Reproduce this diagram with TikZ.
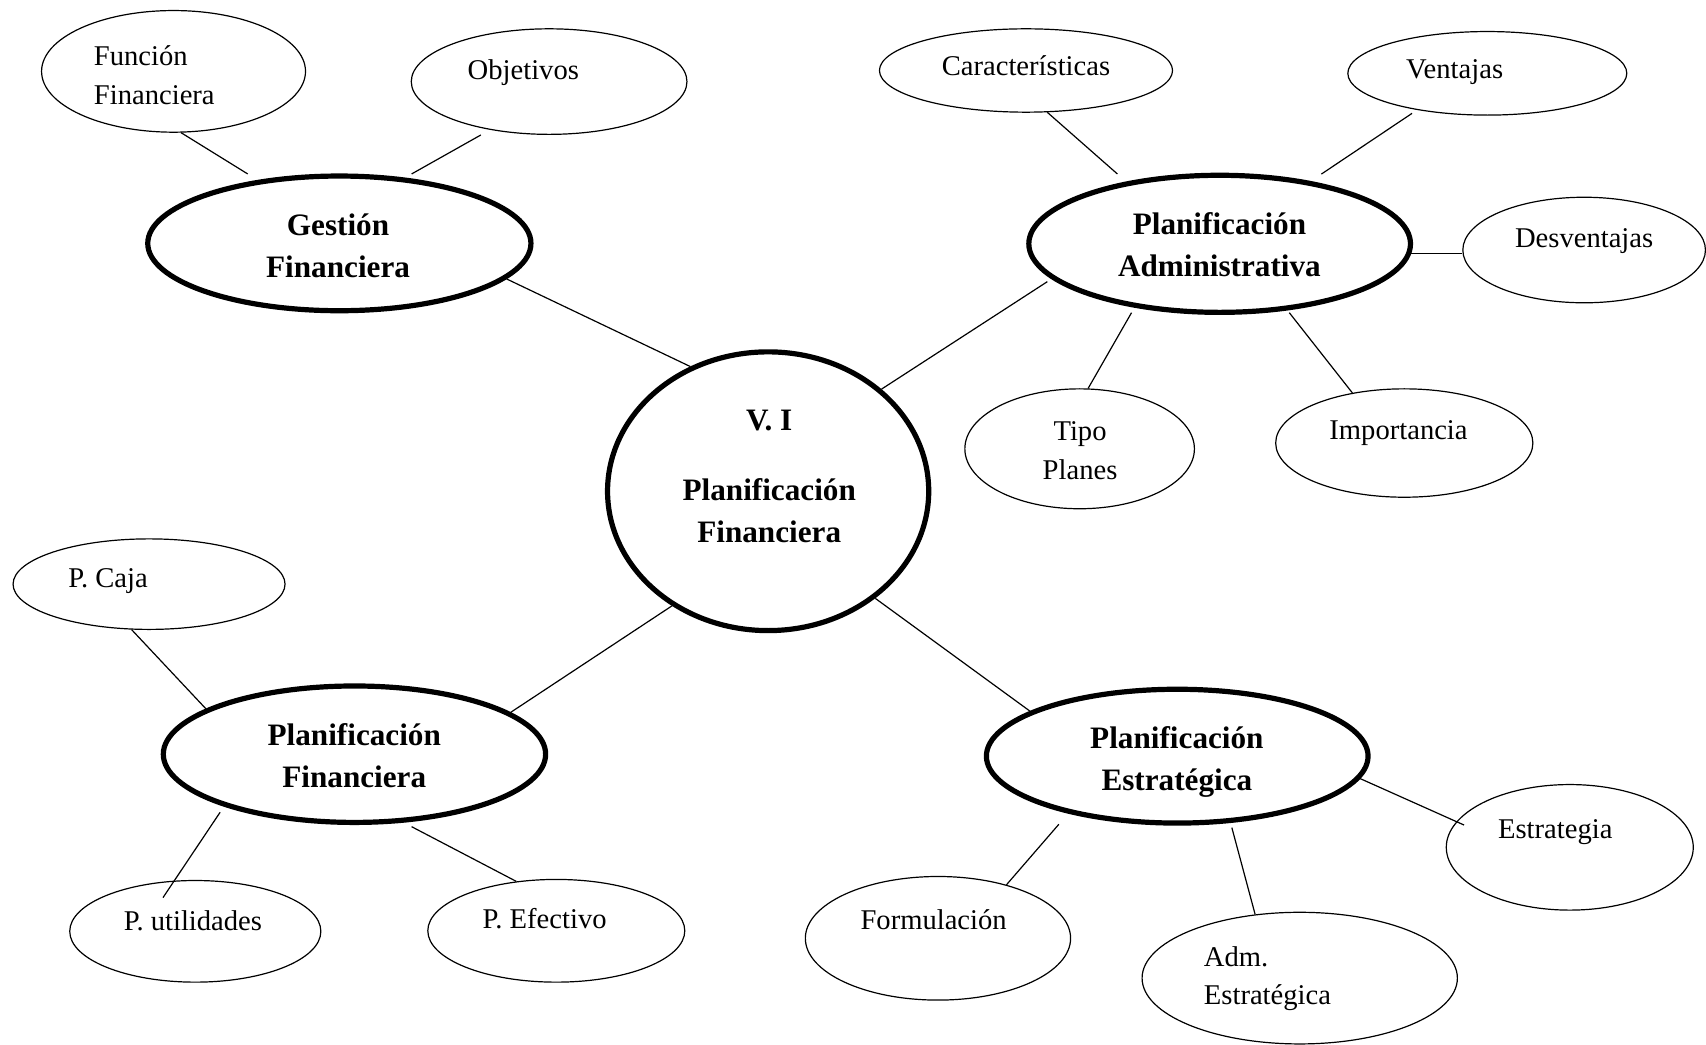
\documentclass[tikz,border=0pt]{standalone}
\usepackage{fontspec}
\setmainfont{Liberation Serif}
\usetikzlibrary{shapes.geometric,calc}
\newcommand\mytwo[3]{\begin{tabular}[t]{@{}#1@{}}#2\\#3\end{tabular}}
\begin{document}
\begin{tikzpicture}[x=0.544pt,y=-0.544pt,
  E/.style 2 args={ellipse, draw, line width=0.6pt, minimum width=#1*1.088pt, minimum height=#2*1.088pt, inner sep=0pt},
  T/.style 2 args={ellipse, draw, line width=2.6pt, minimum width=#1*1.088pt, minimum height=#2*1.088pt, inner sep=0pt},
  txt/.style={font=\fontsize{14.3}{19.4}\selectfont, inner sep=0pt, anchor=base},
  btxt/.style={font=\fontsize{15.6}{21}\selectfont\bfseries, inner sep=0pt, anchor=base},
  conn/.style={line width=0.6pt}]
\useasboundingbox (0,0) rectangle (1568,960);
\fill[white] (0,0) rectangle (1568,960);
% thin ellipses
\node[E={121.3}{55.9}] (nfun) at (159.5,65.6) {};
\node[E={126.7}{48.5}] (nobj) at (504.7,75) {};
\node[E={134.7}{38.3}] (ncar) at (943,64.8) {};
\node[E={128.2}{38.4}] (nven) at (1367,67.4) {};
\node[E={111.5}{48.5}] (ndes) at (1456,229.8) {};
\node[E={105.5}{55.1}] (ntip) at (992.3,412.5) {};
\node[E={118.2}{49.8}] (nimp) at (1290.7,407.2) {};
\node[E={125}{41.6}] (ncaj) at (137,536.9) {};
\node[E={115.4}{46.7}] (nuti) at (179.5,856) {};
\node[E={118.1}{47.2}] (nefe) at (511.3,855.5) {};
\node[E={113.5}{57.7}] (nest) at (1442.8,778.8) {};
\node[E={121.9}{56.8}] (nfor) at (862.1,862.4) {};
\node[E={144.9}{60.5}] (nadm) at (1194.6,899) {};
% thick ellipses
\node[T={176.1}{61.9}] (nges) at (311.9,223.7) {};
\node[T={175.4}{63}] (npad) at (1121,224.1) {};
\node[T={147.6}{128.1}] (ncen) at (706,451.5) {};
\node[T={175.7}{62.7}] (npfi) at (325.8,693.2) {};
\node[T={175.4}{61.5}] (npes) at (1082,695) {};
% texts
\node[txt,anchor=base west] (tfun) at (86,60) {\mytwo{l}{Función}{Financiera}};
\node[txt] (tobj) at (481,73.5) {Objetivos};
\node[txt] (tcar) at (943,69) {Características};
\node[txt] (tven) at (1337,72) {Ventajas};
\node[txt] (tdes) at (1456,227.5) {Desventajas};
\node[txt] (ttip) at (992.7,405) {\mytwo{c}{Tipo}{Planes}};
\node[txt] (timp) at (1285.4,403.5) {Importancia};
\node[txt,anchor=base west] (tcaj) at (62.4,540) {P. Caja};
\node[txt] (tuti) at (177.3,855) {P. utilidades};
\node[txt] (tefe) at (500.6,853) {P. Efectivo};
\node[txt] (test) at (1429.5,770.5) {Estrategia};
\node[txt] (tfor) at (858.1,854) {Formulación};
\node[txt,anchor=base west] (tadm) at (1106.2,888) {\mytwo{l}{Adm.}{Estratégica}};
\node[btxt] (tges) at (310.7,216) {\mytwo{c}{Gestión}{Financiera}};
\node[btxt] (tpad) at (1120.8,215.5) {\mytwo{c}{Planificación}{Administrativa}};
\node[btxt] (tcen) at (707,396) {\begin{tabular}[t]{@{}c@{}}V. I\\[13.7pt]Planificación\\Financiera\end{tabular}};
\node[btxt] (tpfi) at (325.6,684.8) {\mytwo{c}{Planificación}{Financiera}};
\node[btxt] (tpes) at (1081.7,688) {\mytwo{c}{Planificación}{Estratégica}};
% connectors
\draw[conn] (nfun.-83.5) -- ($(nges.center)+(-84.2,-63.8)$);
\draw[conn] ($(nobj.center)+(-62.8,49.1)$) -- ($(nges.center)+(66.4,-63.8)$);
\draw[conn] (nges.-12.4) -- (ncen.122.5);
\draw[conn] (ncar.-63.1) -- ($(npad.center)+(-94,-64.2)$);
\draw[conn] ($(nven.center)+(-69.2,36.8)$) -- ($(npad.center)+(93.5,-64.1)$);
\draw[conn] (npad.-3.8) -- (npad.-3.8 -| ndes.west);
\draw[conn] ($(npad.center)+(-158.4,34.8)$) -- (ncen.42.5);
\draw[conn] ($(npad.center)+(-81,63.3)$) -- (ntip.82.1);
\draw[conn] ($(npad.center)+(64,63.3)$) -- (nimp.136.1);
\draw[conn] (ncen.-130.1) -- (npfi.15.6);
\draw[conn] (ncaj.-111.8) -- (npfi.163.5);
\draw[conn] ($(npfi.center)+(-123.5,53.4)$) -- ($(nuti.center)+(-29.7,-31)$);
\draw[conn] ($(npfi.center)+(52.5,66.6)$) -- (nefe.129.6);
\draw[conn] (ncen.-45.3) -- (npes.163.6);
\draw[conn] (npes.-7.1) -- ($(nest.center)+(-97.2,-20.5)$);
\draw[conn] ($(npes.center)+(-108.8,62.6)$) -- (nfor.38.7);
\draw[conn] ($(npes.center)+(50.2,65.7)$) -- (nadm.125.4);
\end{tikzpicture}
\end{document}
